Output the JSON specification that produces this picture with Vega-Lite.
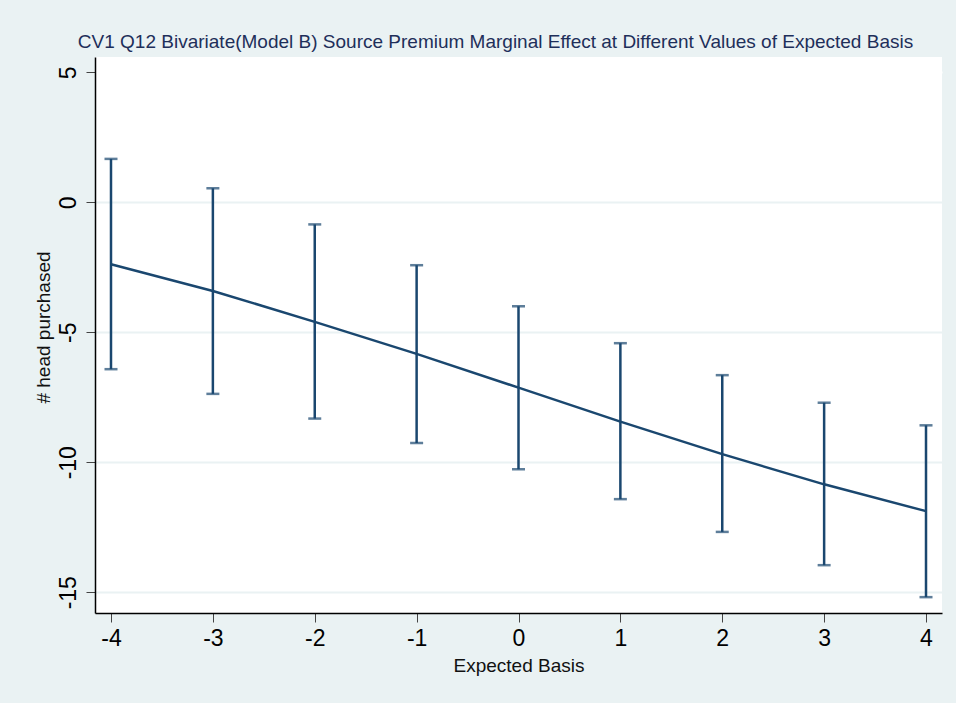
{
  "$schema": "https://vega.github.io/schema/vega-lite/v6.json",
  "width": 847,
  "height": 556,
  "autosize": {"type": "none"},
  "padding": {"left": 95, "top": 57, "right": 14, "bottom": 90},
  "background": "#EAF2F3",
  "config": {
    "view": {"fill": "white", "stroke": null},
    "font": "Liberation Sans"
  },
  "title": {
    "text": "CV1 Q12 Bivariate(Model B) Source Premium Marginal Effect at Different Values of Expected Basis",
    "font": "Liberation Sans",
    "fontSize": 19,
    "fontWeight": "normal",
    "color": "#1E2F5A",
    "anchor": "middle",
    "frame": "group",
    "dx": -23,
    "baseline": "alphabetic",
    "offset": -10
  },
  "data": {
    "values": [
      {"basis": -4, "effect": -2.38, "lo": -6.42, "hi": 1.67},
      {"basis": -3, "effect": -3.41, "lo": -7.37, "hi": 0.54},
      {"basis": -2, "effect": -4.60, "lo": -8.32, "hi": -0.85},
      {"basis": -1, "effect": -5.83, "lo": -9.26, "hi": -2.42},
      {"basis": 0, "effect": -7.13, "lo": -10.27, "hi": -4.00},
      {"basis": 1, "effect": -8.44, "lo": -11.42, "hi": -5.42},
      {"basis": 2, "effect": -9.69, "lo": -12.68, "hi": -6.65},
      {"basis": 3, "effect": -10.85, "lo": -13.96, "hi": -7.71},
      {"basis": 4, "effect": -11.88, "lo": -15.19, "hi": -8.58}
    ]
  },
  "encoding": {
    "x": {
      "field": "basis",
      "type": "quantitative",
      "scale": {"domain": [-4.157, 4.157], "nice": false, "zero": false},
      "axis": {
        "title": "Expected Basis",
        "values": [-4, -3, -2, -1, 0, 1, 2, 3, 4],
        "labelExpr": "'' + datum.value",
        "grid": false,
        "domainColor": "#000000",
        "domainWidth": 1.5,
        "tickColor": "#444444",
        "tickSize": 9,
        "tickWidth": 1,
        "labelFont": "Liberation Sans",
        "labelFontSize": 23,
        "labelColor": "#000000",
        "labelPadding": 5,
        "titleFont": "Liberation Sans",
        "titleFontSize": 19,
        "titleFontWeight": "normal",
        "titleColor": "#111111",
        "titleBaseline": "alphabetic",
        "titleY": 58
      }
    }
  },
  "layer": [
    {
      "mark": {"type": "rule", "color": "#1A476F", "strokeWidth": 2.5},
      "encoding": {
        "y": {
          "field": "lo",
          "type": "quantitative",
          "scale": {"domain": [-15.8, 5.59], "nice": false, "zero": false},
          "axis": {
            "title": "# head purchased",
            "values": [5, 0, -5, -10, -15],
            "labelExpr": "'' + datum.value",
            "grid": true,
            "gridColor": {"condition": {"test": "datum.value === 5", "value": "#FFFFFF"}, "value": "#EAF2F3"},
            "gridWidth": 2,
            "domainColor": "#000000",
            "domainWidth": 1.5,
            "tickColor": "#444444",
            "tickSize": 9,
            "tickWidth": 1,
            "labelFont": "Liberation Sans",
            "labelFontSize": 23,
            "labelColor": "#000000",
            "labelAngle": 270,
            "labelAlign": "center",
            "labelBaseline": "bottom",
            "labelPadding": 6,
            "titleFont": "Liberation Sans",
            "titleFontSize": 19,
            "titleFontWeight": "normal",
            "titleColor": "#111111",
            "titleAngle": 270,
            "titleAlign": "center",
            "titleBaseline": "alphabetic",
            "titleX": -46,
            "titleY": 270
          }
        },
        "y2": {"field": "hi"}
      }
    },
    {
      "mark": {"type": "tick", "color": "#1A476F", "orient": "horizontal", "size": 13, "thickness": 2.5},
      "encoding": {"y": {"field": "lo", "type": "quantitative"}}
    },
    {
      "mark": {"type": "tick", "color": "#1A476F", "orient": "horizontal", "size": 13, "thickness": 2.5},
      "encoding": {"y": {"field": "hi", "type": "quantitative"}}
    },
    {
      "mark": {"type": "line", "color": "#1A476F", "strokeWidth": 2.5},
      "encoding": {"y": {"field": "effect", "type": "quantitative"}}
    }
  ]
}
